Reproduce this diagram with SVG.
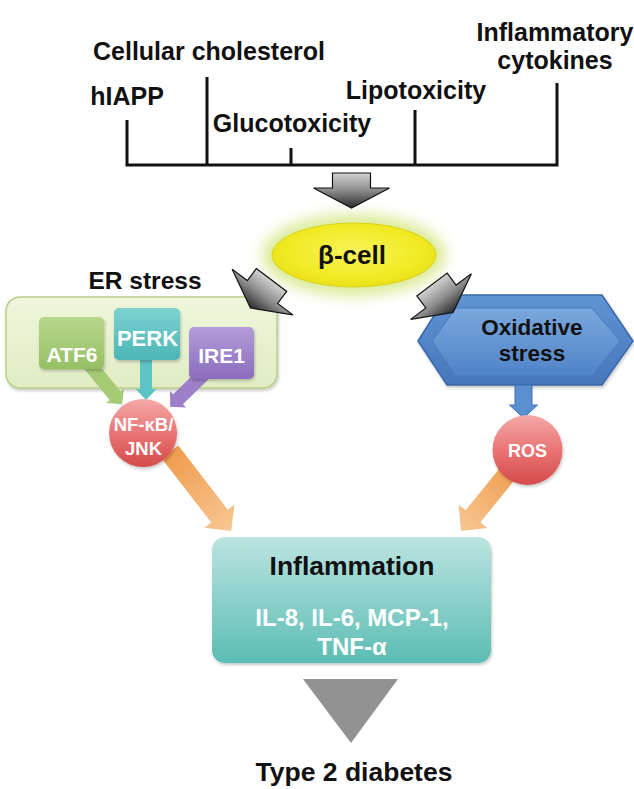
<svg xmlns="http://www.w3.org/2000/svg" width="634" height="789" viewBox="0 0 634 789">
<defs>
<style>
text{font-family:"Liberation Sans",Arial,Helvetica,sans-serif;font-weight:bold;text-anchor:middle}
.lbl{font-size:25px;fill:#111}
.w{fill:#fff}
.brk{stroke:#111;stroke-width:3;fill:none}
.garrow{fill:url(#gGray);stroke:#111;stroke-width:1.2}
.oarrow{fill:url(#gOrange)}
.box{filter:url(#sh)}
</style>
<linearGradient id="gGray" x1="0" y1="0" x2="0" y2="1"><stop offset="0" stop-color="#d2d2d2"/><stop offset="0.5" stop-color="#8c8c8c"/><stop offset="1" stop-color="#2a2a2a"/></linearGradient>
<linearGradient id="gOrange" x1="0" y1="0" x2="0" y2="1"><stop offset="0" stop-color="#f09c4c"/><stop offset="1" stop-color="#f7c794"/></linearGradient>
<linearGradient id="gATF6" x1="0" y1="0" x2="0" y2="1"><stop offset="0" stop-color="#b7d78c"/><stop offset="1" stop-color="#96c064"/></linearGradient>
<linearGradient id="gPERK" x1="0" y1="0" x2="0" y2="1"><stop offset="0" stop-color="#7fd2d2"/><stop offset="1" stop-color="#4ab5b5"/></linearGradient>
<linearGradient id="gIRE1" x1="0" y1="0" x2="0" y2="1"><stop offset="0" stop-color="#b39dd9"/><stop offset="1" stop-color="#8b6cbe"/></linearGradient>
<linearGradient id="gRed" x1="0" y1="0" x2="0" y2="1"><stop offset="0" stop-color="#f5a8a8"/><stop offset="0.55" stop-color="#e87070"/><stop offset="1" stop-color="#d44b4b"/></linearGradient>
<linearGradient id="gTeal" x1="0" y1="0" x2="0" y2="1"><stop offset="0" stop-color="#bce4e2"/><stop offset="1" stop-color="#5bbdb3"/></linearGradient>
<linearGradient id="gER" x1="0" y1="0" x2="0" y2="1"><stop offset="0" stop-color="#eff6dc"/><stop offset="1" stop-color="#e0edc3"/></linearGradient>
<linearGradient id="gHexO" x1="0" y1="0" x2="0" y2="1"><stop offset="0" stop-color="#6094d4"/><stop offset="1" stop-color="#4676bb"/></linearGradient>
<linearGradient id="gHexI" x1="0" y1="0" x2="0" y2="1"><stop offset="0" stop-color="#7aa7dd"/><stop offset="1" stop-color="#5084c8"/></linearGradient>
<radialGradient id="gYel" cx="0.5" cy="0.45" r="0.6"><stop offset="0" stop-color="#f7f35a"/><stop offset="0.7" stop-color="#f1ea22"/><stop offset="1" stop-color="#e6dc14"/></radialGradient>
<filter id="glow" x="-30%" y="-60%" width="160%" height="220%"><feGaussianBlur stdDeviation="7"/></filter>
<filter id="sh" x="-10%" y="-10%" width="125%" height="130%"><feDropShadow dx="1" dy="2" stdDeviation="1.5" flood-color="#000" flood-opacity="0.22"/></filter>
<path id="gArr" d="M-19,-15 H19 V0 H38 L0,20 L-38,0 H-19 Z"/>
</defs>

<g id="factors">
<path class="brk" d="M127,120 V165 H557 V83"/>
<path class="brk" d="M207,77 V165 M291,148 V165 M415,110 V165"/>
<text class="lbl" x="209" y="60">Cellular cholesterol</text>
<text class="lbl" x="127" y="105">hIAPP</text>
<text class="lbl" x="292" y="132">Glucotoxicity</text>
<text class="lbl" x="416" y="99">Lipotoxicity</text>
<text class="lbl" x="555" y="41">Inflammatory</text>
<text class="lbl" x="555" y="69">cytokines</text>
</g>

<g id="beta-cell">
<ellipse cx="354" cy="255" rx="92" ry="41" fill="#dbeb98" filter="url(#glow)"/>
<ellipse cx="354" cy="255" rx="82" ry="32" fill="url(#gYel)" stroke="#dcd21c" stroke-width="1"/>
<text x="352" y="264" font-size="26" fill="#111">β-cell</text>
</g>

<g id="er-stress">
<text class="lbl" x="145" y="289" style="font-size:24.5px">ER stress</text>
<rect class="box" x="6" y="297" width="271" height="91" rx="14" fill="url(#gER)" stroke="#b6d086" stroke-width="1.5"/>
</g>

<g id="oxidative-stress">
<polygon class="box" points="418,341 447,295 602,295 633,341 602,385 447,385" fill="url(#gHexO)" stroke="#3a68aa" stroke-width="1.5"/>
<polygon points="432,341 456,308 592,308 620,341 592,376 456,376" fill="url(#gHexI)" stroke="#4a7cbf" stroke-width="1"/>
<text x="532" y="335" font-size="22.5" fill="#111">Oxidative</text>
<text x="532" y="361" font-size="22.5" fill="#111">stress</text>
</g>

<g id="connectors">
<use href="#gArr" class="garrow" transform="translate(351.5,188)"/>
<use href="#gArr" class="garrow" transform="translate(262.5,292) rotate(37)"/>
<use href="#gArr" class="garrow" transform="translate(441,296.5) rotate(-37)"/>
<path class="oarrow" transform="translate(170,452) rotate(-37.7)" d="M-10.5,0 H10.5 V81 H19 L0,100 L-19,81 H-10.5 Z"/>
<path class="oarrow" transform="translate(514.5,465) rotate(39)" d="M-9.5,0 H9.5 V66 H18.5 L0,85 L-18.5,66 H-9.5 Z"/>
<path fill="#a6cb76" transform="translate(86,360) rotate(-39.2)" d="M-7,0 H7 V46 H11.5 L0,57 L-11.5,46 H-7 Z"/>
<path fill="#5cc4c4" d="M140,355 H152 V389 H156.5 L146,400 L135.5,389 H140 Z"/>
<path fill="#9d80c9" transform="translate(206,372) rotate(45.8)" d="M-7,0 H7 V39 H11.5 L0,50 L-11.5,39 H-7 Z"/>
<path fill="#5b8fd0" stroke="#3d6eb3" stroke-width="1" d="M515,385 H532 V405 H537.5 L523.5,418 L509.5,405 H515 Z"/>
<polygon points="303,679 398,679 351,743" fill="#929292"/>
</g>

<g id="nfkb">
<circle cx="143" cy="433" r="34" fill="url(#gRed)" class="box"/>
<text class="w" x="143.5" y="431" font-size="18.5">NF-κB/</text>
<text class="w" x="143.5" y="455" font-size="18.5">JNK</text>
</g>

<g id="ros">
<circle cx="527.5" cy="450" r="35" fill="url(#gRed)" class="box"/>
<text class="w" x="527.5" y="457" font-size="18">ROS</text>
</g>

<g id="atf6">
<rect class="box" x="39" y="317" width="65" height="52" rx="5" fill="url(#gATF6)"/>
<text class="w" x="72" y="362" font-size="21">ATF6</text>
</g>
<g id="perk">
<rect class="box" x="114" y="308" width="66" height="52" rx="5" fill="url(#gPERK)"/>
<text class="w" x="147.5" y="346" font-size="22">PERK</text>
</g>
<g id="ire1">
<rect class="box" x="189" y="327" width="65" height="52" rx="5" fill="url(#gIRE1)"/>
<text class="w" x="221.5" y="363" font-size="21">IRE1</text>
</g>

<g id="inflammation">
<rect class="box" x="212" y="537" width="279" height="126" rx="13" fill="url(#gTeal)"/>
<text x="352" y="575" font-size="26.5" fill="#111">Inflammation</text>
<text class="w" x="352" y="626" font-size="24">IL-8, IL-6, MCP-1,</text>
<text class="w" x="352" y="655" font-size="24">TNF-α</text>
</g>

<g id="type2">
<text x="354" y="781" font-size="26.5" fill="#111">Type 2 diabetes</text>
</g>
</svg>
